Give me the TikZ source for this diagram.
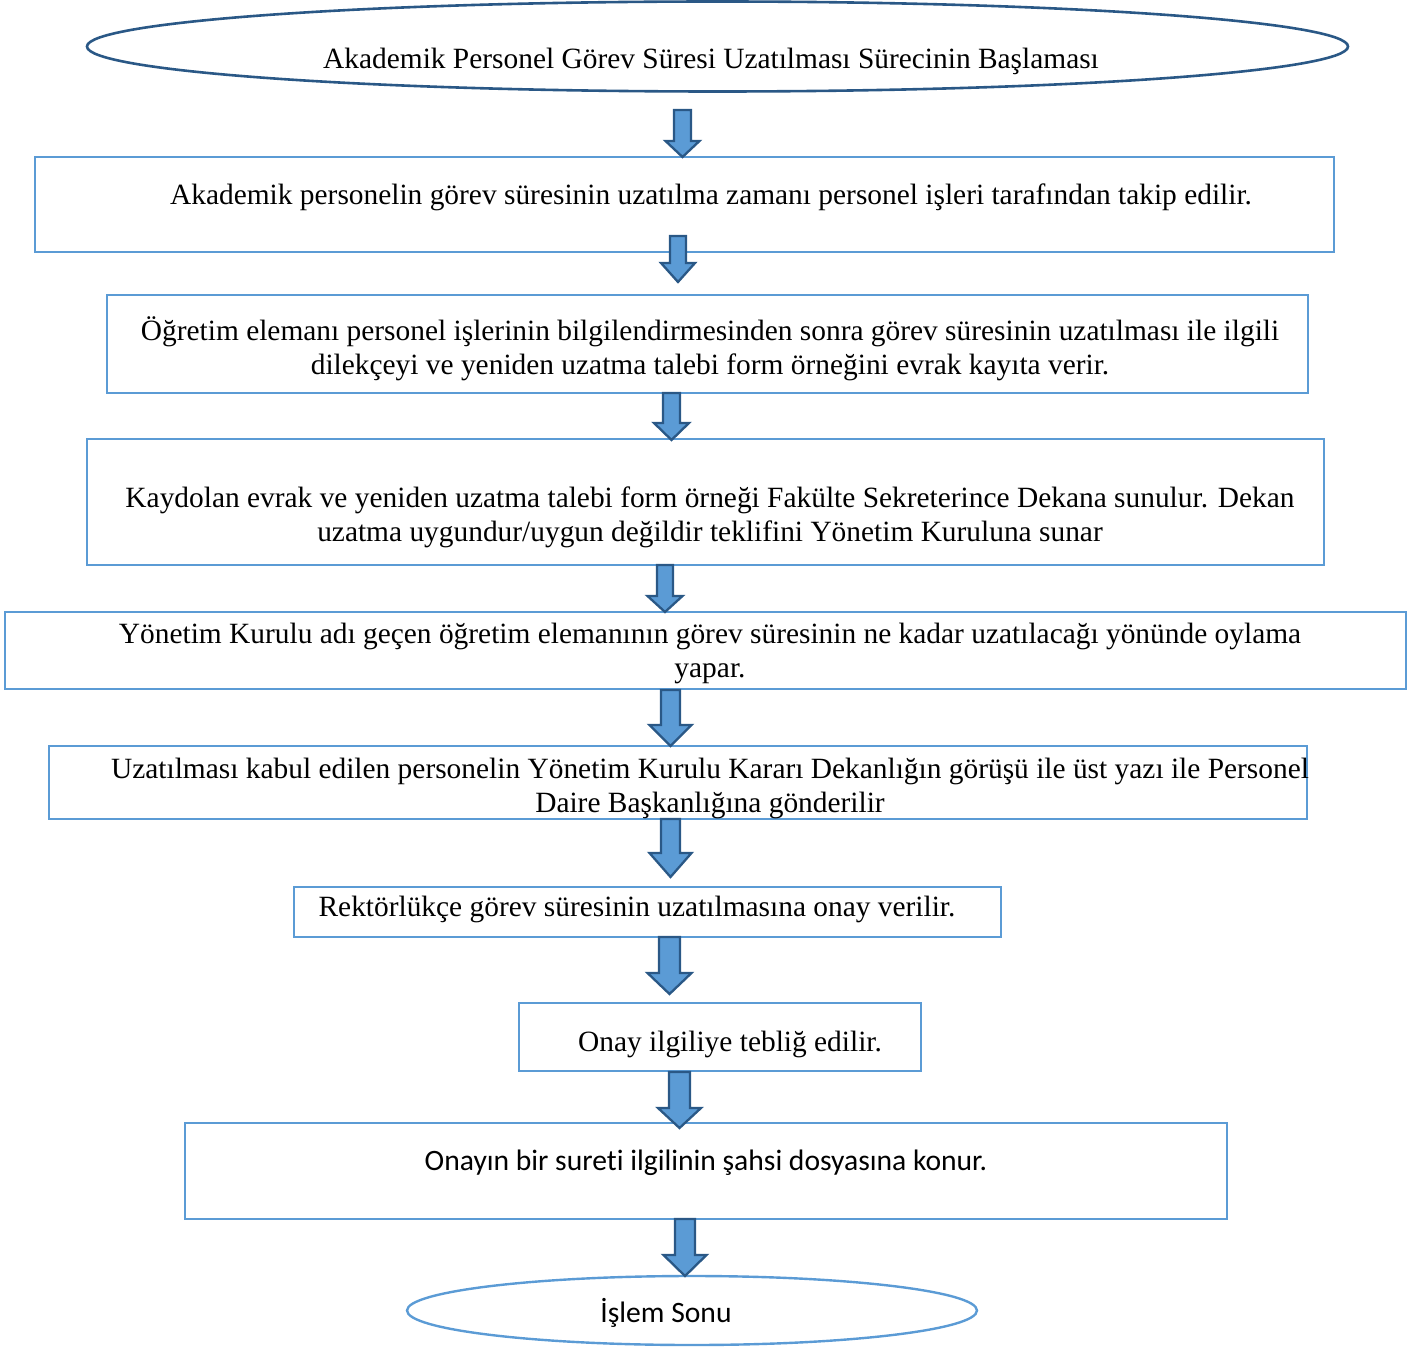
\documentclass[tikz,border=0pt]{standalone}
\usepackage{fontspec}
\setmainfont{Liberation Serif}
\newfontfamily\calibri[Ligatures=NoCommon]{Carlito}
\usetikzlibrary{shapes.geometric}
\definecolor{boxblue}{HTML}{5B9BD5}
\definecolor{darkblue}{HTML}{2A5886}
\tikzset{
  box/.style={draw=boxblue, line width=2.4pt, rectangle, inner sep=0pt},
  startoval/.style={draw=darkblue, line width=2.6pt, ellipse, inner sep=0pt},
  endoval/.style={draw=boxblue, line width=2.4pt, ellipse, inner sep=0pt},
  steptext/.style={inner sep=0pt, align=center, anchor=base,
    font=\fontsize{29.4}{34}\selectfont},
  sanstext/.style={inner sep=0pt, align=center, anchor=base,
    font=\calibri\fontsize{29.6}{34}\selectfont},
  arrowshape/.style={draw=darkblue, fill=boxblue, line width=2.3pt, line join=miter},
  % block arrow pointing down: #1 head start, #2 tip (from top), #3 shaft half width, #4 head half width
  pics/blockarrow/.style n args={4}{code={
    \draw[arrowshape] (-#3,0) -- (#3,0) -- (#3,#1) -- (#4,#1) -- (0,#2)
      -- (-#4,#1) -- (-#3,#1) -- cycle;}}
}
\begin{document}
\begin{tikzpicture}[x=1pt, y=-1pt]
\useasboundingbox (0,0) rectangle (1424,1348);

% start and end ovals
\node[startoval, minimum width=1261pt, minimum height=90pt] (start) at (717.5,46.5) {};
\node[steptext] (starttext) at (711,69) {Akademik Personel Görev Süresi Uzatılması Sürecinin Başlaması};

% process boxes
\node[box, minimum width=1299pt, minimum height=95pt] (b1) at (684.5,204.5) {};
\node[box, minimum width=1201pt, minimum height=98pt] (b2) at (707.5,344) {};
\node[box, minimum width=1237pt, minimum height=126pt] (b3) at (705.5,502) {};
\node[box, minimum width=1401pt, minimum height=77pt] (b4) at (705.5,650.5) {};
\node[box, minimum width=1258pt, minimum height=73pt] (b5) at (678,782.5) {};
\node[box, minimum width=707pt, minimum height=50pt] (b6) at (647.5,912) {};
\node[box, minimum width=402pt, minimum height=68pt] (b7) at (720,1037) {};
\node[box, minimum width=1042pt, minimum height=96pt] (b8) at (706,1171) {};
\node[endoval, minimum width=570pt, minimum height=69pt] (finish) at (692,1310.5) {};

% box texts (two-line texts sit on the baseline of their last line)
\node[steptext] (t1) at (711,205) {Akademik personelin görev süresinin uzatılma zamanı personel işleri tarafından takip edilir.};
\node[steptext] (t2) at (710,374) {Öğretim elemanı personel işlerinin bilgilendirmesinden sonra görev süresinin uzatılması ile ilgili\\dilekçeyi ve yeniden uzatma talebi form örneğini evrak kayıta verir.};
\node[steptext] (t3) at (710,541) {Kaydolan evrak ve yeniden uzatma talebi form örneği Fakülte Sekreterince Dekana sunulur. Dekan\\uzatma uygundur/uygun değildir teklifini Yönetim Kuruluna sunar};
\node[steptext] (t4) at (710,677) {Yönetim Kurulu adı geçen öğretim elemanının görev süresinin ne kadar uzatılacağı yönünde oylama\\yapar.};
\node[steptext] (t5) at (710,812) {Uzatılması kabul edilen personelin Yönetim Kurulu Kararı Dekanlığın görüşü ile üst yazı ile Personel\\Daire Başkanlığına gönderilir};
\node[steptext] (t6) at (637,916) {Rektörlükçe görev süresinin uzatılmasına onay verilir.};
\node[steptext] (t7) at (730,1051) {Onay ilgiliye tebliğ edilir.};
\node[sanstext] (t8) at (706,1170) {Onayın bir suret\kern0pt i ilgilinin şahsi dosyasına konur.};
\node[sanstext] (t9) at (666,1322) {İşlem Sonu};

% block arrows between the steps
\pic at (682.5,110) {blockarrow={31}{47}{8.5}{17}};
\pic at (678,236) {blockarrow={27}{46}{8}{17}};
\pic at (671.5,393) {blockarrow={30}{47}{8.5}{17.5}};
\pic at (665,565) {blockarrow={31}{47}{8}{17.5}};
\pic at (670.5,690) {blockarrow={35}{56}{9.5}{21}};
\pic at (670.5,819) {blockarrow={34}{58}{9.5}{21}};
\pic at (669.5,937) {blockarrow={36}{57}{10.5}{22}};
\pic at (679.5,1072) {blockarrow={36}{56}{10.5}{21.5}};
\pic at (685,1219) {blockarrow={36}{57}{10}{21.5}};
\end{tikzpicture}
\end{document}
